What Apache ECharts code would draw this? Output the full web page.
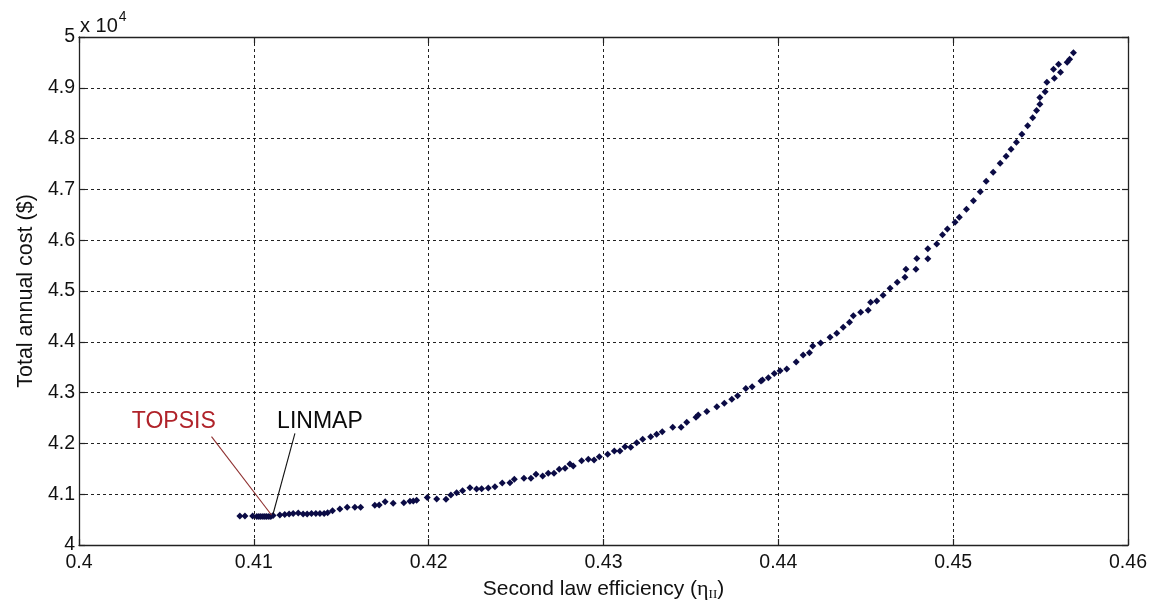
<!DOCTYPE html>
<html>
<head>
<meta charset="utf-8">
<script src="https://cdn.jsdelivr.net/npm/echarts@6/dist/echarts.min.js"></script>
<style>
html,body{margin:0;padding:0;background:#fff;}
#chart{width:1153px;height:600px;}
</style>
</head>
<body>
<div id="chart"></div>
<script>
// Pareto front: second law efficiency vs total annual cost ($)
const efficiency = [
0.40920,0.40949,0.40993,0.41017,0.41029,0.41040,0.41052,0.41063,0.41074,0.41086,0.41097,0.41110,
0.41149,0.41177,0.41202,0.41225,0.41254,0.41282,0.41305,0.41330,0.41355,0.41378,0.41402,0.41422,
0.41450,0.41492,0.41534,0.41578,0.41611,0.41692,0.41717,0.41751,0.41797,0.41858,0.41893,0.41912,
0.41931,0.41992,0.42046,0.42099,0.42127,0.42160,0.42194,0.42236,0.42274,0.42303,0.42341,0.42379,
0.42421,0.42465,0.42490,0.42545,0.42585,0.42614,0.42652,0.42684,0.42717,0.42747,0.42780,0.42808,
0.42827,0.42875,0.42913,0.42946,0.42976,0.43024,0.43062,0.43094,0.43123,0.43156,0.43190,0.43224,
0.43270,0.43304,0.43336,0.43396,0.43444,0.43476,0.43529,0.43542,0.43591,0.43648,0.43691,0.43734,
0.43767,0.43814,0.43850,0.43901,0.43909,0.43943,0.43977,0.44010,0.44048,0.44102,0.44142,0.44178,
0.44197,0.44242,0.44296,0.44334,0.44371,0.44407,0.44429,0.44471,0.44514,0.44528,0.44563,0.44599,
0.44639,0.44680,0.44724,0.44730,0.44787,0.44792,0.44855,0.44855,0.44906,0.44939,0.44967,0.45011,
0.45035,0.45076,0.45116,0.45155,0.45189,0.45229,0.45269,0.45303,0.45331,0.45362,0.45393,0.45426,
0.45455,0.45477,0.45496,0.45496,0.45526,0.45536,0.45579,0.45574,0.45614,0.45603,0.45652,0.45666,
0.45688
];
const annualCost = [
40571,40571,40571,40561,40561,40561,40561,40561,40561,40561,40561,40581,
40591,40600,40610,40620,40630,40610,40610,40620,40620,40620,40620,40636,
40675,40709,40742,40742,40742,40781,40787,40852,40821,40833,40860,40866,
40880,40935,40906,40900,40984,41030,41069,41128,41102,41108,41122,41148,
41220,41226,41293,41313,41313,41392,41358,41411,41411,41490,41510,41594,
41555,41659,41687,41673,41738,41785,41850,41850,41935,41923,42014,42081,
42132,42179,42230,42317,42317,42415,42514,42559,42628,42722,42789,42868,
42939,43081,43116,43228,43248,43293,43376,43429,43465,43602,43740,43785,
43917,43976,44089,44167,44285,44384,44514,44581,44620,44778,44803,44915,
45053,45171,45270,45427,45427,45640,45636,45833,45925,46108,46220,46352,
46451,46608,46778,46955,47161,47337,47514,47652,47791,47927,48085,48252,
48411,48553,48675,48809,48923,49108,49187,49366,49305,49465,49502,49563,
49691
];
// Axis ticks
const xTicks = [0.40, 0.41, 0.42, 0.43, 0.44, 0.45, 0.46];
const yTicks = [40000, 41000, 42000, 43000, 44000, 45000, 46000, 47000, 48000, 49000, 50000];
// Annotations: label, point on the front, leader start near the label, label anchor
const annotationNames = ['TOPSIS', 'LINMAP'];
const annotationPoints = [[0.41101, 40591], [0.41110, 40610]];
const annotationLeaderStarts = [[0.40758, 42132], [0.41235, 42199]];
const annotationLabelAnchors = [[0.40542, 42421], [0.41378, 42421]];
const annotationColors = ['#b0232a', '#0a0a0a'];

const chart = echarts.init(document.getElementById('chart'), null, {renderer: 'canvas'});
const font = '"Liberation Sans", Arial, sans-serif';
const points = efficiency.map((x, i) => [x, annualCost[i]]);

const gridLine = {show: true, lineStyle: {color: '#222', width: 1, type: [3, 3]}};
const axisLine = {show: true, onZero: false, lineStyle: {color: '#222', width: 1.3}};
const axisTick = {show: true, inside: true, length: 6, lineStyle: {color: '#222', width: 1.2}};

const series = [{
  type: 'scatter',
  data: points,
  symbol: 'diamond',
  symbolSize: 7,
  itemStyle: {color: '#0b0b45', opacity: 1},
  z: 5
}];
annotationNames.forEach((name, i) => {
  series.push({
    type: 'line',
    data: [annotationLeaderStarts[i], annotationPoints[i]],
    showSymbol: false,
    symbol: 'none',
    lineStyle: {color: i === 0 ? '#8e2f2f' : '#111', width: 1.1, opacity: 1},
    z: 6,
    silent: true
  });
  series.push({
    type: 'scatter',
    data: [annotationLabelAnchors[i]],
    symbolSize: 1,
    itemStyle: {opacity: 0},
    label: {
      show: true, position: 'inside', formatter: name, opacity: 1,
      color: annotationColors[i], fontSize: 23, fontFamily: font
    },
    z: 7,
    silent: true
  });
});

chart.setOption({
  backgroundColor: '#fff',
  animation: false,
  textStyle: {fontFamily: font},
  grid: {left: 79, right: 25, top: 37, bottom: 55, outerBoundsMode: 'none', containLabel: false},
  graphic: [{
    type: 'text', left: 80, top: 10,
    style: {
      text: '{a|x 10}{b|4}',
      rich: {
        a: {fontSize: 20, fontFamily: font, fill: '#111', padding: [9, 0, 0, 0]},
        b: {fontSize: 14, fontFamily: font, fill: '#111', padding: [0, 0, 9, 1]}
      }
    }
  }],
  xAxis: [{
    type: 'value', min: 0.40, max: 0.46, interval: 0.01,
    axisLine, axisTick, splitLine: gridLine,
    axisLabel: {
      color: '#111', fontSize: 19.5, fontFamily: font, margin: 8,
      formatter: v => String(Number(v.toFixed(2)))
    },
    name: '{a|Second law efficiency (}{e|η}{s|II}{a|)}',
    nameLocation: 'middle', nameGap: 28,
    nameTextStyle: {
      rich: {
        a: {fontSize: 21, fontFamily: font, color: '#111'},
        e: {fontSize: 22, fontFamily: '"Liberation Serif", serif', color: '#111'},
        s: {fontSize: 13, fontFamily: '"Liberation Serif", serif', color: '#111', padding: [12, 0, 0, 0]}
      }
    }
  }, {
    type: 'value', position: 'top', min: 0.40, max: 0.46, interval: 0.01,
    axisLine, axisTick, splitLine: {show: false}, axisLabel: {show: false}
  }],
  yAxis: [{
    type: 'value', min: 40000, max: 50000, interval: 1000,
    axisLine, axisTick, splitLine: gridLine,
    axisLabel: {
      color: '#111', fontSize: 19.5, fontFamily: font, margin: 4,
      formatter: v => String(Number((v / 10000).toFixed(1)))
    },
    name: 'Total annual cost ($)',
    nameLocation: 'middle', nameGap: 42,
    nameTextStyle: {fontSize: 21.5, fontFamily: font, color: '#111'}
  }, {
    type: 'value', position: 'right', min: 40000, max: 50000, interval: 1000,
    axisLine, axisTick, splitLine: {show: false}, axisLabel: {show: false}
  }],
  series
});
</script>
</body>
</html>
